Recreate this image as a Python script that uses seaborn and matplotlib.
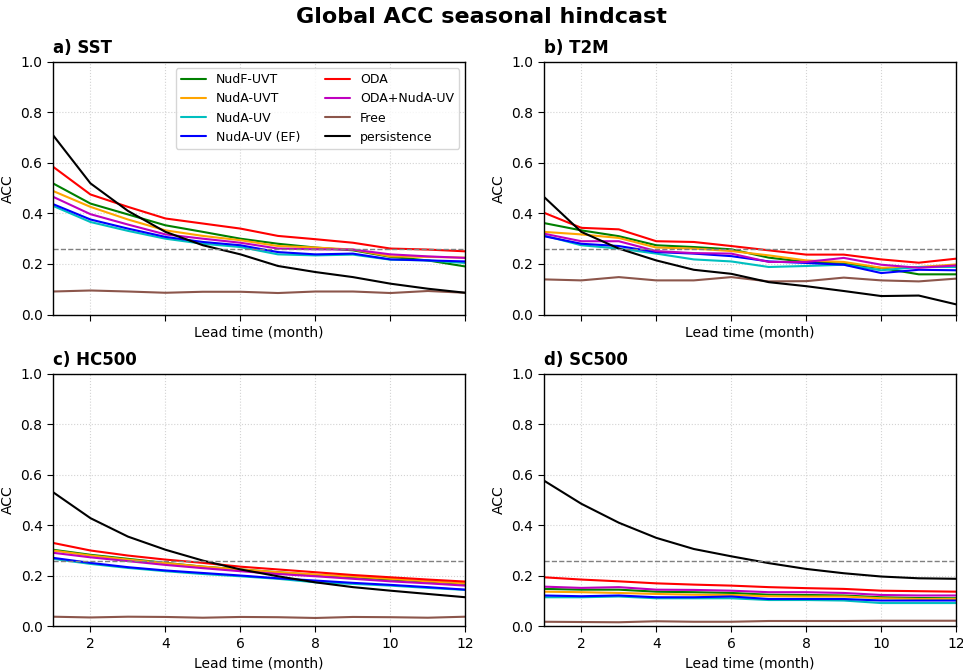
import numpy as np
import pandas as pd
import matplotlib
matplotlib.use("Agg")
import matplotlib.pyplot as plt
import seaborn as sns

# lead time in months
lead = list(range(1, 13))

models = ['NudF-UVT', 'NudA-UVT', 'NudA-UV', 'NudA-UV (EF)',
          'ODA', 'ODA+NudA-UV', 'Free', 'persistence']
colors = ['green', 'orange', 'c', 'blue', 'red', 'm', 'tab:brown', 'black']

# a) SST
sst_nudf_uvt = [0.519, 0.439, 0.396, 0.353, 0.327, 0.300, 0.280, 0.265, 0.254, 0.228, 0.214, 0.190]
sst_nuda_uvt = [0.489, 0.426, 0.376, 0.333, 0.311, 0.294, 0.271, 0.265, 0.257, 0.230, 0.228, 0.225]
sst_nuda_uv = [0.430, 0.366, 0.331, 0.300, 0.280, 0.267, 0.238, 0.234, 0.237, 0.217, 0.214, 0.204]
sst_nuda_uv_ef = [0.437, 0.376, 0.340, 0.307, 0.287, 0.274, 0.247, 0.238, 0.241, 0.218, 0.214, 0.210]
sst_oda = [0.585, 0.475, 0.426, 0.380, 0.360, 0.340, 0.311, 0.298, 0.284, 0.261, 0.257, 0.250]
sst_oda_nuda = [0.466, 0.397, 0.356, 0.317, 0.300, 0.284, 0.261, 0.258, 0.257, 0.238, 0.230, 0.224]
sst_free = [0.091, 0.095, 0.091, 0.086, 0.090, 0.090, 0.085, 0.091, 0.091, 0.085, 0.093, 0.086]
sst_persist = [0.710, 0.519, 0.410, 0.327, 0.274, 0.238, 0.192, 0.168, 0.148, 0.122, 0.102, 0.086]

# b) T2M
t2m_nudf_uvt = [0.362, 0.333, 0.310, 0.274, 0.267, 0.258, 0.225, 0.208, 0.201, 0.184, 0.159, 0.159]
t2m_nuda_uvt = [0.327, 0.317, 0.303, 0.265, 0.261, 0.251, 0.234, 0.214, 0.208, 0.185, 0.188, 0.198]
t2m_nuda_uv = [0.313, 0.274, 0.261, 0.241, 0.218, 0.210, 0.188, 0.192, 0.197, 0.175, 0.188, 0.188]
t2m_nuda_uv_ef = [0.310, 0.280, 0.271, 0.247, 0.241, 0.231, 0.210, 0.204, 0.197, 0.164, 0.177, 0.175]
t2m_oda = [0.403, 0.343, 0.337, 0.290, 0.287, 0.271, 0.254, 0.237, 0.237, 0.218, 0.205, 0.221]
t2m_oda_nuda = [0.320, 0.290, 0.290, 0.251, 0.243, 0.241, 0.208, 0.208, 0.224, 0.197, 0.185, 0.194]
t2m_free = [0.139, 0.135, 0.148, 0.135, 0.135, 0.148, 0.131, 0.132, 0.146, 0.135, 0.131, 0.142]
t2m_persist = [0.466, 0.327, 0.261, 0.214, 0.177, 0.161, 0.128, 0.112, 0.093, 0.073, 0.075, 0.040]

# c) HC500
hc_nudf_uvt = [0.303, 0.283, 0.267, 0.251, 0.236, 0.225, 0.214, 0.203, 0.194, 0.185, 0.177, 0.168]
hc_nuda_uvt = [0.300, 0.280, 0.264, 0.250, 0.236, 0.225, 0.214, 0.205, 0.197, 0.188, 0.178, 0.170]
hc_nuda_uv = [0.267, 0.247, 0.231, 0.218, 0.207, 0.198, 0.188, 0.174, 0.168, 0.161, 0.152, 0.144]
hc_nuda_uv_ef = [0.271, 0.251, 0.234, 0.221, 0.211, 0.201, 0.190, 0.181, 0.172, 0.164, 0.155, 0.145]
hc_oda = [0.330, 0.300, 0.280, 0.264, 0.251, 0.236, 0.225, 0.214, 0.203, 0.194, 0.185, 0.177]
hc_oda_nuda = [0.291, 0.273, 0.258, 0.243, 0.230, 0.218, 0.207, 0.198, 0.188, 0.178, 0.170, 0.161]
hc_free = [0.038, 0.035, 0.038, 0.037, 0.034, 0.037, 0.036, 0.033, 0.037, 0.036, 0.034, 0.038]
hc_persist = [0.531, 0.428, 0.355, 0.303, 0.260, 0.225, 0.198, 0.174, 0.155, 0.141, 0.128, 0.115]

# d) SC500
sc_nudf_uvt = [0.148, 0.145, 0.145, 0.137, 0.135, 0.132, 0.125, 0.124, 0.122, 0.115, 0.112, 0.111]
sc_nuda_uvt = [0.137, 0.135, 0.132, 0.128, 0.125, 0.124, 0.119, 0.118, 0.118, 0.111, 0.108, 0.108]
sc_nuda_uv = [0.115, 0.115, 0.118, 0.111, 0.111, 0.111, 0.104, 0.104, 0.102, 0.092, 0.092, 0.092]
sc_nuda_uv_ef = [0.122, 0.119, 0.122, 0.115, 0.115, 0.118, 0.108, 0.108, 0.108, 0.102, 0.102, 0.102]
sc_oda = [0.194, 0.185, 0.178, 0.170, 0.165, 0.161, 0.155, 0.151, 0.148, 0.141, 0.139, 0.137]
sc_oda_nuda = [0.157, 0.152, 0.155, 0.145, 0.144, 0.141, 0.135, 0.135, 0.132, 0.124, 0.122, 0.122]
sc_free = [0.018, 0.017, 0.016, 0.020, 0.018, 0.018, 0.021, 0.021, 0.021, 0.022, 0.022, 0.022]
sc_persist = [0.577, 0.485, 0.410, 0.350, 0.306, 0.277, 0.250, 0.227, 0.210, 0.197, 0.190, 0.188]

panels = [
    ('a) SST', [sst_nudf_uvt, sst_nuda_uvt, sst_nuda_uv, sst_nuda_uv_ef,
                sst_oda, sst_oda_nuda, sst_free, sst_persist]),
    ('b) T2M', [t2m_nudf_uvt, t2m_nuda_uvt, t2m_nuda_uv, t2m_nuda_uv_ef,
                t2m_oda, t2m_oda_nuda, t2m_free, t2m_persist]),
    ('c) HC500', [hc_nudf_uvt, hc_nuda_uvt, hc_nuda_uv, hc_nuda_uv_ef,
                  hc_oda, hc_oda_nuda, hc_free, hc_persist]),
    ('d) SC500', [sc_nudf_uvt, sc_nuda_uvt, sc_nuda_uv, sc_nuda_uv_ef,
                  sc_oda, sc_oda_nuda, sc_free, sc_persist]),
]
signif = 0.26  # significance level line

sns.set_style("ticks")
plt.rcParams['font.family'] = ['DejaVu Sans']
# plain black text like the default matplotlib look
plt.rcParams.update({'text.color': 'black', 'axes.labelcolor': 'black',
                     'xtick.color': 'black', 'ytick.color': 'black'})

fig, axes = plt.subplots(2, 2, figsize=(9.63, 6.72), dpi=100)
fig.subplots_adjust(left=0.055, right=0.993, top=0.908, bottom=0.068,
                    wspace=0.19, hspace=0.234)
palette = dict(zip(models, colors))

for i, (ax, (title, series)) in enumerate(zip(axes.flat, panels)):
    df = pd.DataFrame({'lead': lead * len(models),
                       'model': np.repeat(models, len(lead)),
                       'acc': np.concatenate(series)})
    sns.lineplot(data=df, x='lead', y='acc', hue='model', hue_order=models,
                 palette=palette, linewidth=1.5, ax=ax, legend=(i == 0))
    ax.axhline(signif, color='gray', linestyle='--', linewidth=1)
    ax.set_xlim(1, 12)
    ax.set_ylim(0, 1)
    ax.set_xticks([2, 4, 6, 8, 10, 12])
    ax.set_yticks([0.0, 0.2, 0.4, 0.6, 0.8, 1.0])
    ax.grid(True, linestyle=':', color='lightgray', linewidth=0.8)
    ax.set_xlabel('Lead time (month)', fontsize=10)
    ax.set_ylabel('ACC', fontsize=10)
    ax.tick_params(labelsize=10, direction='out', length=4)
    ax.set_title(title, loc='left', fontsize=12, fontweight='bold')
    if i < 2:
        ax.tick_params(labelbottom=False)
    for s in ax.spines.values():
        s.set_color('black')
        s.set_linewidth(1)

axes[0, 0].legend(loc='upper right', ncol=2, fontsize=9, title=None,
                  framealpha=0.8)

fig.suptitle('Global ACC seasonal hindcast', fontsize=16, fontweight='bold', y=0.99)
fig.savefig('out.png', dpi=100)
